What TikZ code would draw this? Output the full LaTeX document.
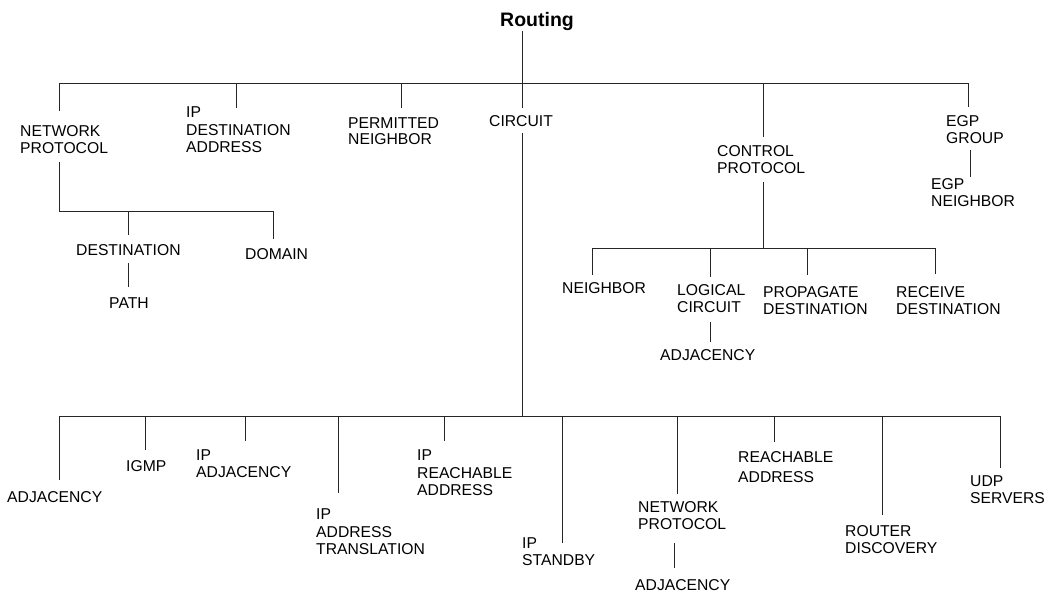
\documentclass[tikz,border=0pt]{standalone}
\usepackage{fontspec}
\setmainfont{Liberation Sans}
\begin{document}
\begin{tikzpicture}[x=1pt,y=-1pt,
  lbl/.style={anchor=base west,inner sep=0pt,align=left,
              font=\fontsize{15.7}{17.5}\selectfont},
  link/.style={draw=black!85,line width=1pt}]
\useasboundingbox (0,0) rectangle (1050,595);

% ---------- text (placed by the baseline of the last line) ----------
\node[anchor=base,inner sep=0pt,font=\bfseries\fontsize{19.5}{22}\selectfont] (root) at (537,26.7) {Routing};

\node[lbl] (np)    at (20,153.6)  {NETWORK\\PROTOCOL};
\node[lbl] (ipd)   at (186,152.6) {IP\\DESTINATION\\ADDRESS};
\node[lbl,font=\fontsize{15.7}{16}\selectfont] (perm) at (348,144.9) {PERMITTED\\NEIGHBOR};
\node[lbl] (circ)  at (489,126.3) {CIRCUIT};
\node[lbl,font=\fontsize{15.7}{17}\selectfont] (cp) at (717,173.6) {CONTROL\\PROTOCOL};
\node[lbl] (egp)   at (946,143.6) {EGP\\GROUP};
\node[lbl] (egpn)  at (931,206.6) {EGP\\NEIGHBOR};

\node[lbl] (dest)  at (76,255.6)  {DESTINATION};
\node[lbl] (dom)   at (245,259.6) {DOMAIN};
\node[lbl] (path)  at (109,308)   {PATH};

\node[lbl] (nb)    at (562,293.6) {NEIGHBOR};
\node[lbl] (lc)    at (677,312.6) {LOGICAL\\CIRCUIT};
\node[lbl] (lca)   at (660,360.6) {ADJACENCY};
\node[lbl,font=\fontsize{15.7}{17}\selectfont] (pd) at (763,314.6) {PROPAGATE\\DESTINATION};
\node[lbl,font=\fontsize{15.7}{17}\selectfont] (rd) at (896,314.6) {RECEIVE\\DESTINATION};

\node[lbl] (adj)   at (7,502.6)   {ADJACENCY};
\node[lbl] (igmp)  at (126,471.6) {IGMP};
\node[lbl] (ipadj) at (196,477.6) {IP\\ADJACENCY};
\node[lbl] (ipat)  at (316,554.6) {IP\\ADDRESS\\TRANSLATION};
\node[lbl] (iprch) at (417,495.6) {IP\\REACHABLE\\ADDRESS};
\node[lbl] (ipsb)  at (522,565.6) {IP\\STANDBY};
\node[lbl,font=\fontsize{15.7}{17}\selectfont] (np2) at (638,529.6) {NETWORK\\PROTOCOL};
\node[lbl] (np2a)  at (635,590.6) {ADJACENCY};
\node[lbl,font=\fontsize{15.7}{20}\selectfont] (rch) at (738,482.6) {REACHABLE\\ADDRESS};
\node[lbl] (rtd)   at (845,553.6) {ROUTER\\DISCOVERY};
\node[lbl] (udp)   at (970,503.6) {UDP\\SERVERS};

% ---------- bar levels ----------
\coordinate (topbar) at (0,83);
\coordinate (npbar)  at (0,211);
\coordinate (cpbar)  at (0,248);
\coordinate (cbar)   at (0,416);

% ---------- line ends next to the labels ----------
\coordinate (np-in)    at (59,111);
\coordinate (np-out)   at (59,162);
\coordinate (ipd-in)   at (236,108);
\coordinate (perm-in)  at (401,108);
\coordinate (circ-in)  at (522,108);
\coordinate (circ-out) at (522,133);
\coordinate (cp-in)    at (763,137);
\coordinate (cp-out)   at (763,182);
\coordinate (egp-in)   at (968,107);
\coordinate (egp-out)  at (970,150);
\coordinate (egpn-in)  at (970,177);

\coordinate (dest-in)  at (128,235);
\coordinate (dest-out) at (128,263);
\coordinate (path-in)  at (128,287);
\coordinate (dom-in)   at (273,239);

\coordinate (nb-in)    at (592,275);
\coordinate (lc-in)    at (710,277);
\coordinate (lc-out)   at (710,322);
\coordinate (lca-in)   at (710,342);
\coordinate (pd-in)    at (807,275);
\coordinate (rd-in)    at (935,274);

\coordinate (adj-in)   at (59,480);
\coordinate (igmp-in)  at (145,450);
\coordinate (ipadj-in) at (245,441);
\coordinate (ipat-in)  at (338,493);
\coordinate (iprch-in) at (444,441);
\coordinate (ipsb-in)  at (562,543);
\coordinate (np2-in)   at (677,494);
\coordinate (np2-out)  at (674,543);
\coordinate (np2a-in)  at (674,568);
\coordinate (rch-in)   at (774,442);
\coordinate (rtd-in)   at (882,515);
\coordinate (udp-in)   at (1000,468);

% ---------- first level ----------
\draw[link] (circ-in |- root.south) -- (circ-in);
\draw[link] (np-in |- topbar) -- (egp-in |- topbar);
\foreach \c in {np-in,ipd-in,perm-in,cp-in,egp-in}
  \draw[link] (\c |- topbar) -- (\c);

% ---------- network protocol ----------
\draw[link] (np-out) -- (np-out |- npbar) -- (dom-in |- npbar) -- (dom-in);
\draw[link] (dest-in |- npbar) -- (dest-in);
\draw[link] (dest-out) -- (path-in);

% ---------- control protocol ----------
\draw[link] (cp-out) -- (cp-out |- cpbar);
\draw[link] (nb-in |- cpbar) -- (rd-in |- cpbar);
\foreach \c in {nb-in,lc-in,pd-in,rd-in}
  \draw[link] (\c |- cpbar) -- (\c);
\draw[link] (lc-out) -- (lca-in);

% ---------- egp group ----------
\draw[link] (egp-out) -- (egpn-in);

% ---------- circuit ----------
\draw[link] (circ-out) -- (circ-out |- cbar);
\draw[link] (adj-in |- cbar) -- (udp-in |- cbar);
\foreach \c in {adj-in,igmp-in,ipadj-in,ipat-in,iprch-in,ipsb-in,np2-in,rch-in,rtd-in,udp-in}
  \draw[link] (\c |- cbar) -- (\c);
\draw[link] (np2-out) -- (np2a-in);
\end{tikzpicture}
\end{document}
